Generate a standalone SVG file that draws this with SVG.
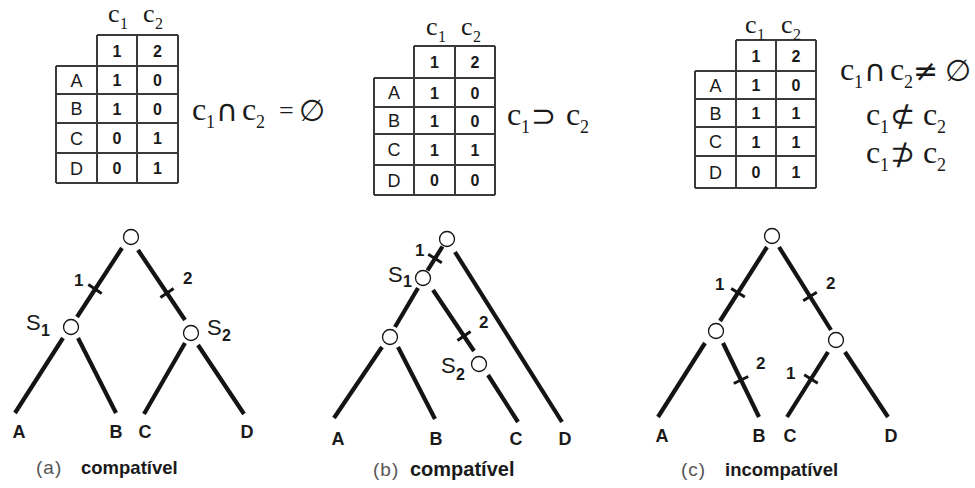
<svg xmlns="http://www.w3.org/2000/svg" width="975" height="488" viewBox="0 0 975 488">
<style>
.bg{fill:#ffffff}
.tl{fill:none;stroke:#3a3a3a;stroke-width:2}
.lt{font-family:"Liberation Sans",Arial,sans-serif;font-size:18px;fill:#1a1a1a;text-anchor:middle}
.dg{font-family:"Liberation Sans",Arial,sans-serif;font-size:16px;font-weight:bold;fill:#1a1a1a;text-anchor:middle}
.hc{font-family:"Liberation Serif","Times New Roman",serif;font-size:26px;fill:#1a1a1a}
.hs{font-family:"Liberation Serif","Times New Roman",serif;font-size:16px;fill:#1a1a1a}
.fc{font-family:"Liberation Serif","Times New Roman",serif;font-size:32px;fill:#1a1a1a}
.fs{font-family:"Liberation Serif","Times New Roman",serif;font-size:18px;fill:#1a1a1a}
.sy{font-family:"DejaVu Sans",sans-serif;font-size:30px;fill:#1a1a1a}
.eq{font-family:"Liberation Serif","Times New Roman",serif;font-size:26px;fill:#1a1a1a}
.br{stroke:#141414;stroke-width:4.2;fill:none}
.tk{stroke:#141414;stroke-width:3;fill:none}
.nd{fill:#ffffff;stroke:#141414;stroke-width:1.3}
.lf{font-family:"Liberation Sans",Arial,sans-serif;font-size:18px;font-weight:bold;fill:#1a1a1a;text-anchor:middle}
.tn{font-family:"Liberation Sans",Arial,sans-serif;font-size:17px;font-weight:bold;fill:#1a1a1a}
.sl{font-family:"Liberation Sans",Arial,sans-serif;font-size:22px;fill:#1a1a1a}
.ss{font-family:"Liberation Sans",Arial,sans-serif;font-size:16px;font-weight:bold;fill:#1a1a1a}
.cp{font-family:"Liberation Sans",Arial,sans-serif;font-size:18.5px;font-weight:bold;fill:#1a1a1a}
.pl{font-family:"Liberation Sans",Arial,sans-serif;font-size:19px;fill:#555555;letter-spacing:1px}
</style>
<rect class="bg" x="0" y="0" width="975" height="488"/>

<!-- Table 1 -->
<g id="table-a">
<path class="tl" d="M97 35H178M56 66H178M56 94H178M56 123H178M56 153H178M56 183H178M56 66V183M97 35V183M137 35V183M178 35V183"/>
<text class="hc" x="108" y="22">c</text><text class="hs" x="120" y="29">1</text>
<text class="hc" x="143" y="22">c</text><text class="hs" x="155" y="29">2</text>
<text class="dg" x="117" y="56.5">1</text><text class="dg" x="157.5" y="56.5">2</text>
<text class="lt" x="76.5" y="86.5">A</text><text class="dg" x="117" y="86">1</text><text class="dg" x="157.5" y="86">0</text>
<text class="lt" x="76.5" y="115">B</text><text class="dg" x="117" y="114.5">1</text><text class="dg" x="157.5" y="114.5">0</text>
<text class="lt" x="76.5" y="144.5">C</text><text class="dg" x="117" y="144">0</text><text class="dg" x="157.5" y="144">1</text>
<text class="lt" x="76.5" y="174.5">D</text><text class="dg" x="117" y="174">0</text><text class="dg" x="157.5" y="174">1</text>
</g>
<g id="formula-a">
<text class="fc" x="192" y="120">c</text><text class="fs" x="206" y="128">1</text>
<text class="sy" x="216" y="121">∩</text>
<text class="fc" x="242" y="120">c</text><text class="fs" x="256" y="128">2</text>
<text class="eq" x="279" y="119">=</text>
<text class="sy" x="299" y="121">∅</text>
</g>

<!-- Table 2 -->
<g id="table-b">
<path class="tl" d="M414 46H495M374 78H495M374 107H495M374 134H495M374 165H495M374 195H495M374 78V195M414 46V195M455 46V195M495 46V195"/>
<text class="hc" x="426" y="35">c</text><text class="hs" x="438" y="42">1</text>
<text class="hc" x="461" y="35">c</text><text class="hs" x="473" y="42">2</text>
<text class="dg" x="434.5" y="68">1</text><text class="dg" x="475" y="68">2</text>
<text class="lt" x="394" y="99">A</text><text class="dg" x="434.5" y="98.5">1</text><text class="dg" x="475" y="98.5">0</text>
<text class="lt" x="394" y="127">B</text><text class="dg" x="434.5" y="126.5">1</text><text class="dg" x="475" y="126.5">0</text>
<text class="lt" x="394" y="156">C</text><text class="dg" x="434.5" y="155.5">1</text><text class="dg" x="475" y="155.5">1</text>
<text class="lt" x="394" y="186.5">D</text><text class="dg" x="434.5" y="186">0</text><text class="dg" x="475" y="186">0</text>
</g>
<g id="formula-b">
<text class="fc" x="507" y="125">c</text><text class="fs" x="521" y="133">1</text>
<text class="sy" x="531" y="126">⊃</text>
<text class="fc" x="566" y="125">c</text><text class="fs" x="580" y="133">2</text>
</g>

<!-- Table 3 -->
<g id="table-c">
<path class="tl" d="M736 40H816M695 71H816M695 99H816M695 127H816M695 156H816M695 188H816M695 71V188M736 40V188M776 40V188M816 40V188"/>
<text class="hc" x="745" y="33">c</text><text class="hs" x="757" y="40">1</text>
<text class="hc" x="781" y="33">c</text><text class="hs" x="793" y="40">2</text>
<text class="dg" x="756" y="61.5">1</text><text class="dg" x="796" y="61.5">2</text>
<text class="lt" x="715.5" y="91.5">A</text><text class="dg" x="756" y="91">1</text><text class="dg" x="796" y="91">0</text>
<text class="lt" x="715.5" y="119.5">B</text><text class="dg" x="756" y="119">1</text><text class="dg" x="796" y="119">1</text>
<text class="lt" x="715.5" y="148">C</text><text class="dg" x="756" y="147.5">1</text><text class="dg" x="796" y="147.5">1</text>
<text class="lt" x="715.5" y="178.5">D</text><text class="dg" x="756" y="178">0</text><text class="dg" x="796" y="178">1</text>
</g>
<g id="formula-c">
<text class="fc" x="840" y="80">c</text><text class="fs" x="854" y="88">1</text>
<text class="sy" x="864" y="81">∩</text>
<text class="fc" x="890" y="80">c</text><text class="fs" x="904" y="88">2</text>
<text class="sy" x="913" y="81">≠</text>
<text class="sy" x="945" y="81">∅</text>
<text class="fc" x="866" y="125">c</text><text class="fs" x="880" y="133">1</text>
<text class="sy" x="890" y="126">⊄</text>
<text class="fc" x="923" y="125">c</text><text class="fs" x="937" y="133">2</text>
<text class="fc" x="866" y="163">c</text><text class="fs" x="880" y="171">1</text>
<text class="sy" x="890" y="164">⊅</text>
<text class="fc" x="923" y="163">c</text><text class="fs" x="937" y="171">2</text>
</g>

<!-- Connectors -->
<g id="connectors">
<!-- tree a -->
<line class="br" x1="122" y1="248" x2="77" y2="317"/>
<line class="br" x1="138" y1="250" x2="185" y2="320"/>
<line class="br" x1="63" y1="338" x2="15" y2="413"/>
<line class="br" x1="78" y1="338" x2="116" y2="413"/>
<line class="br" x1="185" y1="343" x2="144" y2="414"/>
<line class="br" x1="198" y1="345" x2="244" y2="414"/>
<line class="tk" x1="88.3" y1="284.6" x2="101.7" y2="293.4"/>
<line class="tk" x1="160.4" y1="297.5" x2="173.6" y2="288.5"/>
<!-- tree b -->
<line class="br" x1="442.5" y1="246.5" x2="427.5" y2="270.5"/>
<line class="br" x1="455" y1="252" x2="562" y2="422"/>
<line class="br" x1="418" y1="288" x2="395" y2="327"/>
<line class="br" x1="433" y1="290" x2="474" y2="351"/>
<line class="br" x1="382" y1="347" x2="334" y2="418"/>
<line class="br" x1="398" y1="347" x2="435" y2="419"/>
<line class="br" x1="488" y1="375" x2="518" y2="422"/>
<line class="tk" x1="428.2" y1="254.3" x2="441.8" y2="262.7"/>
<line class="tk" x1="457.4" y1="340.6" x2="470.6" y2="331.6"/>
<!-- tree c -->
<line class="br" x1="767" y1="247" x2="720" y2="321"/>
<line class="br" x1="779" y1="247" x2="831" y2="330"/>
<line class="br" x1="705" y1="343" x2="658" y2="417"/>
<line class="br" x1="723" y1="343" x2="759" y2="417"/>
<line class="br" x1="828" y1="352" x2="787" y2="417"/>
<line class="br" x1="845" y1="352" x2="888" y2="417"/>
<line class="tk" x1="731.2" y1="288.5" x2="744.8" y2="297"/>
<line class="tk" x1="803.2" y1="300.7" x2="816.8" y2="292.3"/>
<line class="tk" x1="733.8" y1="383.5" x2="748.2" y2="376.5"/>
<line class="tk" x1="804.2" y1="374.8" x2="817.8" y2="383.2"/>
<!-- tick labels -->
<text class="tn" x="74" y="286">1</text>
<text class="tn" x="183" y="284">2</text>
<text class="tn" x="415" y="256">1</text>
<text class="tn" x="479" y="328">2</text>
<text class="tn" x="715" y="290">1</text>
<text class="tn" x="826" y="289">2</text>
<text class="tn" x="756" y="369">2</text>
<text class="tn" x="786" y="379">1</text>
</g>

<!-- Tree a nodes -->
<g id="a-root"><circle class="nd" cx="131" cy="237" r="7.5"/></g>
<g id="a-s1"><circle class="nd" cx="71" cy="327" r="7.5"/><text class="sl" x="26" y="330">S</text><text class="ss" x="41" y="336">1</text></g>
<g id="a-s2"><circle class="nd" cx="191" cy="333" r="7.5"/><text class="sl" x="207" y="335">S</text><text class="ss" x="222" y="341">2</text></g>
<g id="a-A"><text class="lf" x="19" y="438">A</text></g>
<g id="a-B"><text class="lf" x="116" y="438">B</text></g>
<g id="a-C"><text class="lf" x="145" y="438">C</text></g>
<g id="a-D"><text class="lf" x="247" y="438">D</text></g>
<g id="a-caption"><text class="pl" x="36" y="474">(a)</text><text class="cp" x="81" y="474">compatível</text></g>

<!-- Tree b nodes -->
<g id="b-root"><circle class="nd" cx="447" cy="239" r="7.5"/></g>
<g id="b-s1"><circle class="nd" cx="423" cy="278" r="7.5"/><text class="sl" x="388" y="282">S</text><text class="ss" x="403" y="287">1</text></g>
<g id="b-ab"><circle class="nd" cx="390" cy="337" r="7.5"/></g>
<g id="b-s2"><circle class="nd" cx="479" cy="364" r="7.5"/><text class="sl" x="441" y="373">S</text><text class="ss" x="456" y="380">2</text></g>
<g id="b-A"><text class="lf" x="338" y="445">A</text></g>
<g id="b-B"><text class="lf" x="436" y="445">B</text></g>
<g id="b-C"><text class="lf" x="516" y="445">C</text></g>
<g id="b-D"><text class="lf" x="565" y="445">D</text></g>
<g id="b-caption"><text class="pl" x="373" y="476">(b)</text><text class="cp" x="410" y="476" style="font-size:20px">compatível</text></g>

<!-- Tree c nodes -->
<g id="c-root"><circle class="nd" cx="772" cy="236" r="7.5"/></g>
<g id="c-left"><circle class="nd" cx="716" cy="331" r="7.5"/></g>
<g id="c-right"><circle class="nd" cx="836" cy="340" r="7.5"/></g>
<g id="c-A"><text class="lf" x="662" y="442">A</text></g>
<g id="c-B"><text class="lf" x="759" y="442">B</text></g>
<g id="c-C"><text class="lf" x="790" y="442">C</text></g>
<g id="c-D"><text class="lf" x="891" y="442">D</text></g>
<g id="c-caption"><text class="pl" x="681" y="476">(c)</text><text class="cp" x="725" y="476">incompatível</text></g>
</svg>
